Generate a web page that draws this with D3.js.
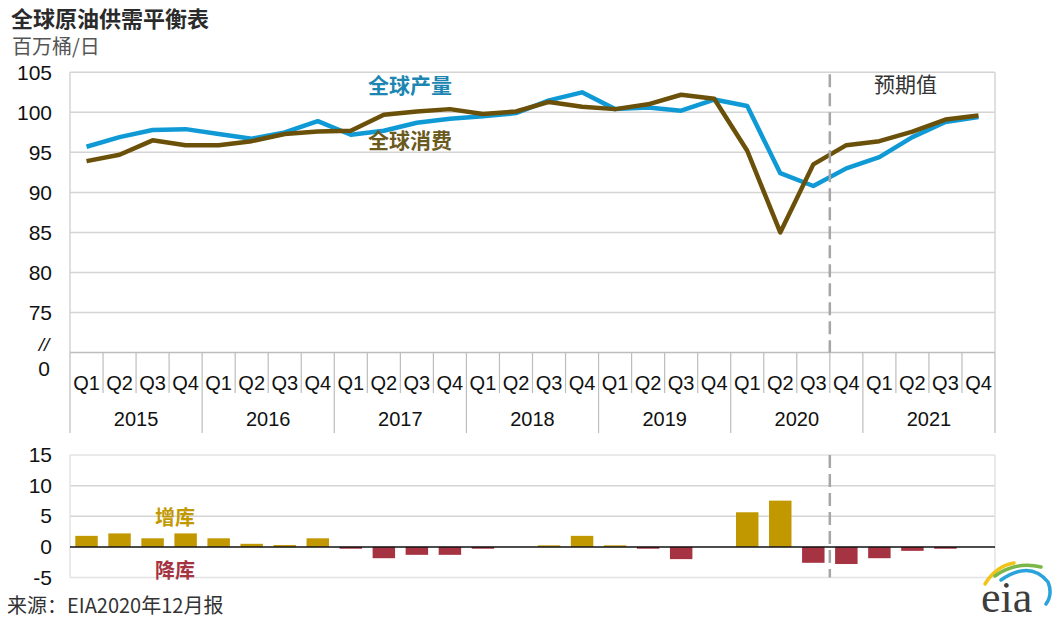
<!DOCTYPE html>
<html>
<head>
<meta charset="utf-8">
<script src="https://cdn.jsdelivr.net/npm/d3@7/dist/d3.min.js"></script>
<style>
  html, body { margin: 0; padding: 0; background: #fff; }
  svg { display: block; }
  .num { font-family: "Liberation Sans", Arial, sans-serif; fill: #111; }
  .cjk { font-family: "Noto Sans CJK SC", "Noto Sans", sans-serif; }
</style>
</head>
<body>
<svg id="chart" width="1053" height="621"></svg>
<script>
// Global crude oil supply/demand balance, quarterly, million barrels per day
const years = [2015, 2016, 2017, 2018, 2019, 2020, 2021];
const quarters = ["Q1", "Q2", "Q3", "Q4"];

const production = [95.7, 96.9, 97.8, 97.9, 97.3, 96.7, 97.5, 98.9,
                    97.2, 97.7, 98.7, 99.2, 99.5, 99.9, 101.5, 102.5,
                    100.4, 100.6, 100.2, 101.6, 100.8, 92.4, 90.8, 93.0,
                    94.4, 96.9, 98.8, 99.4];
const consumption = [93.9, 94.7, 96.5, 95.9, 95.9, 96.4, 97.3, 97.6,
                     97.7, 99.7, 100.1, 100.4, 99.8, 100.1, 101.3, 100.7,
                     100.4, 101.0, 102.2, 101.7, 95.2, 85.0, 93.5, 95.9,
                     96.4, 97.6, 99.1, 99.6];
const stockChange = [1.8, 2.2, 1.4, 2.2, 1.4, 0.5, 0.3, 1.4,
                     -0.3, -1.85, -1.3, -1.3, -0.3, 0, 0.25, 1.8,
                     0.25, -0.3, -2.0, 0, 5.65, 7.55, -2.6, -2.8,
                     -1.85, -0.65, -0.3, 0];

const topTicks = [75, 80, 85, 90, 95, 100, 105];
const bottomTicks = [-5, 0, 5, 10, 15];
const forecastStart = "2020Q4";

// category keys like "2015Q1"
const categories = years.flatMap(y => quarters.map(q => y + q));

const svg = d3.select("#chart");
const left = 70, right = 995;
const gridColor = "#d4d4d4";
const blue = "#0f9ad6", brown = "#6a5009";
const gold = "#c29800", red = "#a53341";

const x = d3.scaleBand().domain(categories).range([left, right]).paddingInner(0).paddingOuter(0);
const xBar = d3.scaleBand().domain(categories).range([left, right]).paddingInner(0.32).paddingOuter(0.16);
const cx = c => x(c) + x.bandwidth() / 2;

// ---------- title ----------
svg.append("text").attr("class", "cjk").attr("x", 11).attr("y", 27)
  .attr("font-size", 22).attr("font-weight", 700).attr("fill", "#2b2b2b")
  .text("全球原油供需平衡表");
svg.append("text").attr("class", "cjk").attr("x", 12).attr("y", 54)
  .attr("font-size", 20).attr("fill", "#555")
  .text("百万桶/日");

// ---------- top panel ----------
const yTop = d3.scaleLinear().domain([70, 105]).range([352.5, 72.3]);

const gTop = svg.append("g");
gTop.selectAll("line.grid").data(topTicks).join("line")
  .attr("x1", left).attr("x2", right)
  .attr("y1", d => yTop(d)).attr("y2", d => yTop(d))
  .attr("stroke", gridColor).attr("stroke-width", 1.5);
// frame sides
gTop.append("line").attr("x1", left).attr("x2", left).attr("y1", yTop(105)).attr("y2", yTop(70))
  .attr("stroke", gridColor).attr("stroke-width", 1.5);
gTop.append("line").attr("x1", right).attr("x2", right).attr("y1", yTop(105)).attr("y2", yTop(70))
  .attr("stroke", gridColor).attr("stroke-width", 1.5);

const yAxisTop = d3.axisLeft(yTop).tickValues(topTicks).tickSize(0).tickPadding(0);
const gYTop = gTop.append("g").attr("transform", `translate(${left - 18},0)`).call(yAxisTop);
gYTop.select(".domain").remove();
gYTop.selectAll("text").attr("class", "num").attr("font-size", 21).attr("fill", "#111");

// axis break and baseline label
gTop.append("text").attr("class", "num").attr("x", 44).attr("y", yTop(70) - 2)
  .attr("text-anchor", "middle").attr("font-size", 19).attr("font-style", "italic").attr("fill", "#111").text("//");
gTop.append("text").attr("class", "num").attr("x", 44).attr("y", yTop(70) + 23)
  .attr("text-anchor", "middle").attr("font-size", 21).attr("fill", "#111").text("0");

// category axis (quarters + years)
const axisY = yTop(70);
const gX = svg.append("g");
gX.append("line").attr("x1", left).attr("x2", right).attr("y1", axisY).attr("y2", axisY)
  .attr("stroke", "#bdbdbd").attr("stroke-width", 1.5);
const boundaries = categories.map(c => x(c)).concat([right]);
gX.selectAll("line.sep").data(boundaries).join("line")
  .attr("x1", d => d).attr("x2", d => d)
  .attr("y1", axisY)
  .attr("y2", (d, i) => (i % 4 === 0 ? 433 : 393))
  .attr("stroke", "#bdbdbd").attr("stroke-width", 1.2);
gX.selectAll("text.q").data(categories).join("text")
  .attr("class", "num").attr("x", d => cx(d)).attr("y", 390)
  .attr("text-anchor", "middle").attr("font-size", 20).attr("fill", "#111")
  .text(d => d.slice(4));
gX.selectAll("text.yr").data(years).join("text")
  .attr("class", "num")
  .attr("x", y => (x(y + "Q1") + x(y + "Q4") + x.bandwidth()) / 2)
  .attr("y", 426).attr("text-anchor", "middle").attr("font-size", 20).attr("fill", "#111")
  .text(y => y);

// lines
const line = d3.line().x((d, i) => cx(categories[i])).y(d => yTop(d));
gTop.append("path").datum(production).attr("d", line)
  .attr("fill", "none").attr("stroke", blue).attr("stroke-width", 4.5).attr("stroke-linejoin", "round");
gTop.append("path").datum(consumption).attr("d", line)
  .attr("fill", "none").attr("stroke", brown).attr("stroke-width", 4.5).attr("stroke-linejoin", "round");

// series labels
gTop.append("text").attr("class", "cjk").attr("x", 368).attr("y", 93)
  .attr("font-size", 21).attr("font-weight", 700).attr("fill", "#1c86b3").text("全球产量");
gTop.append("text").attr("class", "cjk").attr("x", 368).attr("y", 148)
  .attr("font-size", 21).attr("font-weight", 700).attr("fill", "#6b5a1e").text("全球消费");
gTop.append("text").attr("class", "cjk").attr("x", 874).attr("y", 92)
  .attr("font-size", 21).attr("fill", "#333").text("预期值");

// ---------- bottom panel ----------
const yBot = d3.scaleLinear().domain([-5, 15]).range([577.5, 455]);
const gBot = svg.append("g");
gBot.selectAll("line.grid").data(bottomTicks.filter(d => d !== 0)).join("line")
  .attr("x1", left).attr("x2", right)
  .attr("y1", d => yBot(d)).attr("y2", d => yBot(d))
  .attr("stroke", d => (d === 15 || d === -5) ? "#e3e3e3" : gridColor).attr("stroke-width", 1.5);
gBot.append("line").attr("x1", left).attr("x2", left).attr("y1", yBot(15)).attr("y2", yBot(-5))
  .attr("stroke", "#e3e3e3").attr("stroke-width", 1.5);
gBot.append("line").attr("x1", right).attr("x2", right).attr("y1", yBot(15)).attr("y2", yBot(-5))
  .attr("stroke", "#e3e3e3").attr("stroke-width", 1.5);

const yAxisBot = d3.axisLeft(yBot).tickValues(bottomTicks).tickSize(0).tickPadding(0);
const gYBot = gBot.append("g").attr("transform", `translate(${left - 18},0)`).call(yAxisBot);
gYBot.select(".domain").remove();
gYBot.selectAll("text").attr("class", "num").attr("font-size", 21).attr("fill", "#111")
  .text(d => d < 0 ? "-" + Math.abs(d) : d);

gBot.selectAll("rect.bar").data(stockChange).join("rect")
  .attr("x", (d, i) => xBar(categories[i]))
  .attr("width", xBar.bandwidth())
  .attr("y", d => yBot(Math.max(0, d)))
  .attr("height", d => Math.abs(yBot(d) - yBot(0)))
  .attr("fill", d => d >= 0 ? gold : red);

gBot.append("line").attr("x1", left).attr("x2", right).attr("y1", yBot(0)).attr("y2", yBot(0))
  .attr("stroke", "#111").attr("stroke-width", 1.5);

gBot.append("text").attr("class", "cjk").attr("x", 155).attr("y", 525)
  .attr("font-size", 20).attr("font-weight", 700).attr("fill", gold).text("增库");
gBot.append("text").attr("class", "cjk").attr("x", 155).attr("y", 578)
  .attr("font-size", 20).attr("font-weight", 700).attr("fill", red).text("降库");

// forecast divider in both panels
const fx = x(forecastStart);
[[yTop(105) + 2, yTop(70)], [yBot(15), yBot(-5)]].forEach(([a, b]) => {
  svg.append("line").attr("x1", fx).attr("x2", fx).attr("y1", a).attr("y2", b)
    .attr("stroke", "#a6a6a6").attr("stroke-width", 2.5).attr("stroke-dasharray", "13,6");
});

// ---------- footer ----------
svg.append("text").attr("class", "cjk").attr("x", 7).attr("y", 613)
  .attr("font-size", 20).attr("fill", "#333").text("来源：EIA2020年12月报");

// eia logo
const logo = svg.append("g");
logo.append("path").attr("d", "M985,584 Q996,566 1014,563").attr("fill", "none")
  .attr("stroke", "#f2c318").attr("stroke-width", 3.5).attr("stroke-linecap", "round");
logo.append("path").attr("d", "M995,576 Q1016,561 1041,567").attr("fill", "none")
  .attr("stroke", "#7ab648").attr("stroke-width", 3.5).attr("stroke-linecap", "round");
logo.append("path").attr("d", "M1001,580 Q1030,560 1048,582 Q1053,594 1046,604").attr("fill", "none")
  .attr("stroke", "#2aa3db").attr("stroke-width", 3.5).attr("stroke-linecap", "round");
logo.append("text").attr("x", 981).attr("y", 612)
  .attr("font-family", "Liberation Serif, DejaVu Serif, serif").attr("font-size", 44)
  .attr("fill", "#3d3d3d").text("eia");
</script>
</body>
</html>
